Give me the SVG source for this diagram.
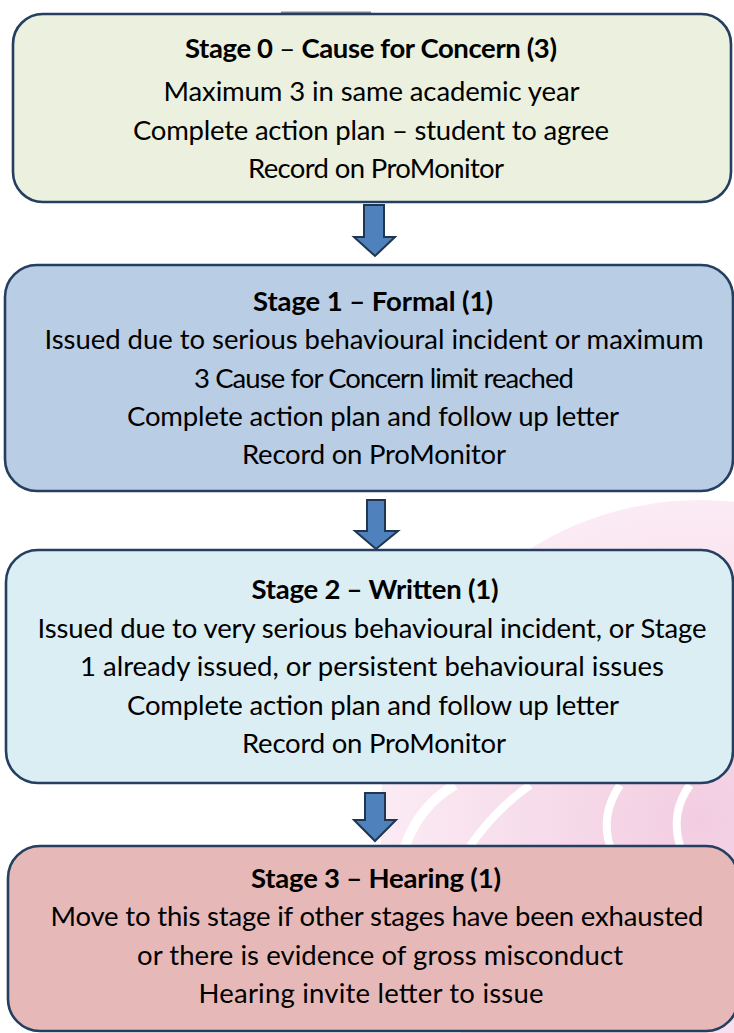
<svg xmlns="http://www.w3.org/2000/svg" width="734" height="1033" viewBox="0 0 734 1033">
<defs>
<style>
.box{stroke:#243f60;stroke-width:2.6}
.t{font-family:Lato,"Open Sans","Liberation Sans",sans-serif;font-size:27.5px;fill:#000;text-anchor:middle}
.b{font-weight:bold}
.n{font-weight:normal}
.arr{fill:#4f81bd;stroke:#1f3550;stroke-width:2;stroke-linejoin:miter}
</style>
<radialGradient id="wm" cx="0.5" cy="0.5" r="0.5">
<stop offset="0" stop-color="#f2cde1"/>
<stop offset="1" stop-color="#fbebf4"/>
</radialGradient>
</defs>
<rect width="734" height="1033" fill="#fff"/>
<g id="watermark">
<circle cx="700" cy="820" r="320" fill="url(#wm)"/>
<path d="M405 846 Q420 805 455 785" fill="none" stroke="#fff" stroke-width="10"/>
<path d="M470 846 Q495 810 530 785" fill="none" stroke="#fff" stroke-width="8"/>
<path d="M610 846 Q600 815 620 785" fill="none" stroke="#fff" stroke-width="8"/>
<path d="M680 846 Q670 812 690 785" fill="none" stroke="#fff" stroke-width="8"/>
</g>
<line x1="281" y1="12.5" x2="371" y2="12.5" stroke="#8c8c8c" stroke-width="2"/>
<g id="connectors">
<polygon class="arr" points="364,205 384,205 384,237 395,237 375,256 354,237 364,237"/>
<polygon class="arr" points="367,500 385,500 385,531 398,531 376,549 355,531 367,531"/>
<polygon class="arr" points="365,793 385,793 385,820 396,820 375,841 354,820 365,820"/>
</g>
<g id="stage0">
<rect class="box" x="13" y="14" width="718" height="188" rx="30" fill="#ebf1de"/>
<text class="t" x="371" y="58" textLength="372"><tspan class="b">Stage 0</tspan><tspan class="n"> – </tspan><tspan class="b">Cause for Concern (3)</tspan></text>
<text class="t" x="371.5" y="101" textLength="416">Maximum 3 in same academic year</text>
<text class="t" x="371" y="140" textLength="476">Complete action plan – student to agree</text>
<text class="t" x="376" y="178" textLength="256">Record on ProMonitor</text>
</g>
<g id="stage1">
<rect class="box" x="5" y="265" width="728" height="226" rx="32" fill="#b9cde5"/>
<text class="t b" x="373" y="311" textLength="240">Stage 1 – Formal (1)</text>
<text class="t" x="374" y="349" textLength="659">Issued due to serious behavioural incident or maximum</text>
<text class="t" x="384" y="388" textLength="380">3 Cause for Concern limit reached</text>
<text class="t" x="373" y="426" textLength="492">Complete action plan and follow up letter</text>
<text class="t" x="374" y="464" textLength="264">Record on ProMonitor</text>
</g>
<g id="stage2">
<rect class="box" x="6" y="550" width="727" height="233" rx="32" fill="#dbeef4"/>
<text class="t b" x="375" y="599" textLength="247">Stage 2 – Written (1)</text>
<text class="t" x="372" y="638" textLength="669">Issued due to very serious behavioural incident, or Stage</text>
<text class="t" x="372" y="676" textLength="584">1 already issued, or persistent behavioural issues</text>
<text class="t" x="373" y="715" textLength="492">Complete action plan and follow up letter</text>
<text class="t" x="374" y="753" textLength="264">Record on ProMonitor</text>
</g>
<g id="stage3">
<rect class="box" x="8" y="846" width="730" height="185" rx="32" fill="#e6b9b8"/>
<text class="t b" x="376" y="888" textLength="250">Stage 3 – Hearing (1)</text>
<text class="t" x="377" y="926" textLength="653">Move to this stage if other stages have been exhausted</text>
<text class="t" x="380" y="965" textLength="486">or there is evidence of gross misconduct</text>
<text class="t" x="371" y="1003" textLength="345">Hearing invite letter to issue</text>
</g>
</svg>
